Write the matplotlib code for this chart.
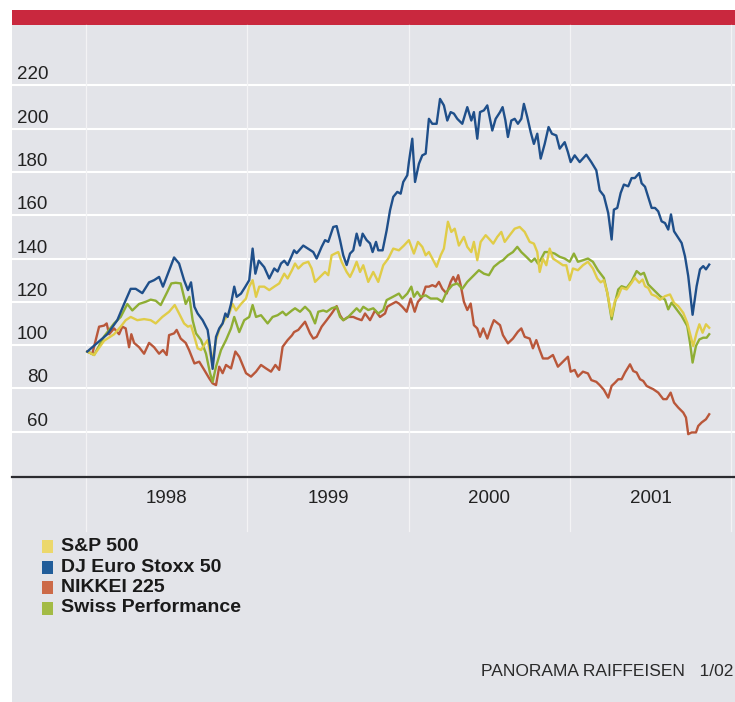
import matplotlib
matplotlib.use('Agg')
import matplotlib.pyplot as plt
import matplotlib.transforms as mtransforms
from matplotlib.patches import Rectangle

plt.rcParams['font.family'] = ['Liberation Sans', 'DejaVu Sans']

# Data (index, start = ~97), decimal years #
stoxx_t = [1998.008, 1998.070, 1998.132, 1998.194, 1998.236, 1998.277, 1998.308, 1998.349, 1998.391, 1998.422,
           1998.453, 1998.477, 1998.515, 1998.546, 1998.577, 1998.608, 1998.632, 1998.651, 1998.672, 1998.692,
           1998.723, 1998.754, 1998.769, 1998.785, 1998.806, 1998.826, 1998.847, 1998.864, 1998.878, 1998.899,
           1998.919, 1998.934, 1998.961, 1998.988, 1999.012, 1999.033, 1999.050, 1999.071, 1999.105, 1999.136,
           1999.167, 1999.188, 1999.209, 1999.229, 1999.250, 1999.277, 1999.290, 1999.306, 1999.347, 1999.378,
           1999.409, 1999.430, 1999.461, 1999.482, 1999.502, 1999.533, 1999.554, 1999.575, 1999.595, 1999.616,
           1999.637, 1999.657, 1999.678, 1999.699, 1999.715, 1999.740, 1999.761, 1999.777, 1999.798, 1999.812,
           1999.839, 1999.864, 1999.885, 1999.905, 1999.930, 1999.951, 1999.967, 1999.992, 2000.002, 2000.023,
           2000.040, 2000.064, 2000.085, 2000.106, 2000.126, 2000.147, 2000.174, 2000.195, 2000.219, 2000.240,
           2000.261, 2000.281, 2000.302, 2000.333, 2000.364, 2000.389, 2000.405, 2000.426, 2000.443, 2000.467,
           2000.488, 2000.519, 2000.540, 2000.567, 2000.583, 2000.600, 2000.616, 2000.637, 2000.658, 2000.678,
           2000.699, 2000.715, 2000.736, 2000.757, 2000.777, 2000.798, 2000.819, 2000.844, 2000.868, 2000.889,
           2000.916, 2000.937, 2000.968, 2000.988, 2001.005, 2001.030, 2001.061, 2001.102, 2001.133, 2001.164,
           2001.185, 2001.211, 2001.238, 2001.259, 2001.273, 2001.294, 2001.315, 2001.335, 2001.362, 2001.383,
           2001.403, 2001.430, 2001.445, 2001.466, 2001.486, 2001.507, 2001.528, 2001.548, 2001.569, 2001.590,
           2001.610, 2001.627, 2001.646, 2001.666, 2001.693, 2001.714, 2001.734, 2001.761, 2001.786, 2001.807,
           2001.827, 2001.844, 2001.864]
stoxx_v = [97, 101, 105, 111.5, 119, 126, 126, 124, 129, 130,
           131.5, 127, 134.5, 140.5, 137.7, 130, 125.4, 129, 117.7, 114.6,
           111.5, 107, 99.2, 89, 103.8, 107.7, 110, 114.6, 113, 119,
           127, 122.3, 123.8, 127, 130, 144.6, 133, 139, 136, 130.8,
           135.4, 134, 137.7, 139, 137, 141.5, 143.8, 142.5, 146, 144.5,
           143, 140, 145.4, 148.5, 147.7, 154.6, 155, 148.5, 141.5, 137,
           142.3, 143.8, 151.5, 146, 151.5, 148.5, 147, 143, 147.7, 143.8,
           143.8, 153, 162.3, 168.5, 170.8, 170, 175.4, 178.5, 184.6, 195.4,
           175.4, 183.8, 187.7, 188.5, 204.6, 202.3, 202.3, 213.8, 210.8, 203.8,
           207.7, 207, 204.6, 202.3, 210, 203.8, 207.7, 195.4, 207.7, 208.5,
           210.8, 199.2, 204.6, 207.7, 210, 204, 196.2, 203.8, 204.6, 202.3,
           204.6, 211.5, 205.4, 198.5, 193, 197.7, 186.2, 193, 200.8, 197.7,
           196.9, 190.8, 193.8, 189.2, 184.6, 187.7, 184.6, 188, 184.6, 180.8,
           171.5, 169, 161, 148.8, 162.6, 163.4, 170.3, 174.2, 173.4, 177.2,
           177.2, 179.5, 174.8, 173.2, 168.5, 163.4, 163.4, 161.8, 157.2, 156.4,
           153.4, 160.4, 152.6, 150.3, 147.2, 141, 131.9, 114, 127.2, 135,
           136.5, 135, 137.2]

sp500_t = [1998.008, 1998.050, 1998.112, 1998.174, 1998.215, 1998.246, 1998.277, 1998.318, 1998.360, 1998.401,
           1998.432, 1998.473, 1998.515, 1998.550, 1998.577, 1998.608, 1998.632, 1998.651, 1998.672, 1998.692,
           1998.713, 1998.733, 1998.754, 1998.781, 1998.806, 1998.826, 1998.857, 1998.888, 1998.909, 1998.930,
           1998.961, 1998.992, 1999.012, 1999.033, 1999.054, 1999.074, 1999.105, 1999.136, 1999.167, 1999.198,
           1999.229, 1999.250, 1999.277, 1999.296, 1999.316, 1999.347, 1999.378, 1999.399, 1999.420, 1999.451,
           1999.482, 1999.502, 1999.523, 1999.544, 1999.564, 1999.585, 1999.616, 1999.637, 1999.657, 1999.678,
           1999.699, 1999.719, 1999.750, 1999.781, 1999.812, 1999.843, 1999.874, 1999.905, 1999.940, 1999.971,
           2000.002, 2000.033, 2000.058, 2000.085, 2000.106, 2000.126, 2000.147, 2000.174, 2000.199, 2000.219,
           2000.244, 2000.265, 2000.286, 2000.312, 2000.343, 2000.364, 2000.389, 2000.405, 2000.426, 2000.447,
           2000.478, 2000.498, 2000.525, 2000.550, 2000.575, 2000.596, 2000.627, 2000.658, 2000.689, 2000.720,
           2000.751, 2000.777, 2000.798, 2000.813, 2000.833, 2000.854, 2000.875, 2000.895, 2000.926, 2000.957,
           2000.978, 2000.999, 2001.019, 2001.050, 2001.081, 2001.112, 2001.143, 2001.170, 2001.191, 2001.211,
           2001.232, 2001.259, 2001.280, 2001.300, 2001.321, 2001.352, 2001.383, 2001.403, 2001.430, 2001.451,
           2001.466, 2001.486, 2001.507, 2001.534, 2001.559, 2001.590, 2001.621, 2001.646, 2001.672, 2001.703,
           2001.728, 2001.749, 2001.765, 2001.786, 2001.803, 2001.823, 2001.844, 2001.864]
sp500_v = [97, 95.4, 102, 105, 108.5, 111.5, 113, 111.5, 112, 111.5,
           110, 113, 115.4, 118.5, 114.6, 110, 108.5, 109, 103.8, 98.5,
           97.7, 100, 102.3, 92, 102.3, 107, 111.5, 114.6, 119, 116,
           119, 121.5, 127, 130, 122.3, 127, 127, 125.4, 127, 128.5,
           133, 130.8, 134.6, 137.7, 135.4, 137.7, 138.5, 135.4, 129.2, 131.5,
           133.8, 132.3, 141.5, 142.3, 143, 138.5, 133.8, 131.5, 134.6, 138.5,
           133.8, 136.9, 129.2, 133.8, 129.2, 136.9, 140, 144.6, 143.8, 146,
           148.5, 142.3, 147.7, 145.4, 141.5, 143, 140, 136.2, 141.5, 144.6,
           157, 152.3, 153.8, 146, 150, 145.4, 143, 147.7, 139.2, 147.7,
           150.8, 149.2, 146.9, 150, 152.3, 147.7, 150.8, 153.8, 154.6, 152.3,
           147.7, 146.9, 143, 133.8, 140, 136.9, 144.6, 140, 138.5, 136.9,
           136.9, 130, 135.4, 134.6, 136.9, 138.5, 135.4, 130.8, 129, 130,
           124.2, 113.4, 120.5, 122.6, 126.5, 125.7, 128.8, 131.1, 128.8, 130.3,
           127.2, 126.4, 123.4, 122.6, 121, 122.6, 123.4, 119.5, 118, 114.9,
           110.3, 104.2, 99.5, 105.7, 109.6, 105.7, 109.6, 108]

nikkei_t = [1998.008, 1998.039, 1998.081, 1998.112, 1998.128, 1998.143, 1998.174, 1998.205, 1998.225, 1998.246,
            1998.267, 1998.281, 1998.298, 1998.329, 1998.360, 1998.391, 1998.422, 1998.453, 1998.477, 1998.500,
            1998.515, 1998.546, 1998.562, 1998.587, 1998.618, 1998.639, 1998.672, 1998.702, 1998.733, 1998.764,
            1998.785, 1998.806, 1998.826, 1998.847, 1998.868, 1998.899, 1998.926, 1998.950, 1998.971, 1998.992,
            1999.023, 1999.054, 1999.085, 1999.116, 1999.147, 1999.174, 1999.198, 1999.219, 1999.250, 1999.277,
            1999.290, 1999.316, 1999.358, 1999.389, 1999.409, 1999.430, 1999.461, 1999.492, 1999.523, 1999.554,
            1999.575, 1999.595, 1999.626, 1999.657, 1999.678, 1999.709, 1999.730, 1999.761, 1999.792, 1999.823,
            1999.854, 1999.868, 1999.885, 1999.922, 1999.940, 1999.961, 1999.988, 2000.013, 2000.038, 2000.058,
            2000.085, 2000.106, 2000.126, 2000.147, 2000.168, 2000.188, 2000.209, 2000.236, 2000.261, 2000.277,
            2000.292, 2000.308, 2000.323, 2000.343, 2000.364, 2000.385, 2000.405, 2000.426, 2000.443, 2000.463,
            2000.488, 2000.513, 2000.529, 2000.567, 2000.585, 2000.616, 2000.647, 2000.678, 2000.699, 2000.720,
            2000.751, 2000.771, 2000.792, 2000.813, 2000.833, 2000.864, 2000.895, 2000.926, 2000.957, 2000.988,
            2001.005, 2001.030, 2001.050, 2001.081, 2001.112, 2001.133, 2001.164, 2001.185, 2001.211, 2001.238,
            2001.259, 2001.280, 2001.300, 2001.321, 2001.342, 2001.373, 2001.393, 2001.414, 2001.435, 2001.455,
            2001.476, 2001.497, 2001.517, 2001.548, 2001.579, 2001.600, 2001.625, 2001.646, 2001.672, 2001.703,
            2001.720, 2001.734, 2001.755, 2001.782, 2001.796, 2001.817, 2001.844, 2001.864]
nikkei_v = [97, 96, 108.5, 109, 110, 105, 107.7, 105, 108.5, 107.7,
            99, 105, 101, 99, 96, 101, 99, 96, 97.7, 95.4,
            104.6, 105.4, 107, 103, 101, 97.7, 91.5, 92.3, 88.5, 84.6,
            82.3, 81.5, 90, 87, 90.8, 89.2, 97, 94.6, 90.8, 87,
            85.4, 87.7, 90.8, 89.2, 87.7, 90.8, 88.5, 99.2, 102.3, 104.5,
            106, 107, 110.8, 105.4, 103, 103.8, 108.5, 111.5, 114.6, 118,
            113.8, 111.5, 113, 113, 112.3, 111.5, 114.6, 111.5, 116, 113,
            114.6, 117.7, 118.5, 120, 119.2, 117.7, 115.4, 121.5, 115.4, 120,
            122.3, 127, 127, 127.7, 127, 129.2, 126, 123.8, 129.2, 131.5,
            129.2, 132.3, 127.7, 120, 116.2, 119.2, 109.2, 107.7, 103.8, 107.7,
            103, 108.5, 111.5, 109.2, 104.6, 100.8, 103, 106.2, 107.7, 103.8,
            103, 98.5, 102.3, 97.7, 93.8, 93.8, 95.4, 90, 92.3, 94.6,
            87.7, 88.5, 85.4, 87.7, 86.9, 83.8, 83, 81.5, 79.3, 75.7,
            81.1, 82.6, 84.2, 84.2, 87.3, 91.1, 88, 87.3, 84.2, 83.4,
            81.1, 80.3, 79.6, 78, 75, 75, 78, 73.4, 71.1, 68.8,
            66.5, 58.8, 59.6, 59.6, 62.6, 64.2, 65.7, 68]

swiss_t = [1998.008, 1998.050, 1998.112, 1998.174, 1998.215, 1998.256, 1998.287, 1998.329, 1998.370, 1998.401,
           1998.432, 1998.463, 1998.504, 1998.529, 1998.556, 1998.587, 1998.618, 1998.641, 1998.661, 1998.682,
           1998.713, 1998.744, 1998.769, 1998.785, 1998.806, 1998.837, 1998.868, 1998.899, 1998.919, 1998.950,
           1998.981, 1999.012, 1999.033, 1999.054, 1999.085, 1999.126, 1999.157, 1999.188, 1999.219, 1999.240,
           1999.277, 1999.296, 1999.327, 1999.358, 1999.389, 1999.420, 1999.440, 1999.471, 1999.492, 1999.523,
           1999.554, 1999.575, 1999.595, 1999.626, 1999.657, 1999.678, 1999.699, 1999.719, 1999.750, 1999.781,
           1999.812, 1999.843, 1999.864, 1999.895, 1999.940, 1999.961, 1999.992, 2000.017, 2000.033, 2000.054,
           2000.075, 2000.106, 2000.137, 2000.178, 2000.209, 2000.236, 2000.271, 2000.302, 2000.333, 2000.364,
           2000.405, 2000.436, 2000.467, 2000.498, 2000.529, 2000.567, 2000.585, 2000.616, 2000.647, 2000.674,
           2000.699, 2000.730, 2000.761, 2000.782, 2000.802, 2000.823, 2000.844, 2000.875, 2000.906, 2000.937,
           2000.968, 2000.999, 2001.025, 2001.050, 2001.081, 2001.112, 2001.143, 2001.174, 2001.211, 2001.232,
           2001.259, 2001.280, 2001.300, 2001.321, 2001.352, 2001.383, 2001.414, 2001.439, 2001.459, 2001.486,
           2001.517, 2001.559, 2001.590, 2001.610, 2001.631, 2001.662, 2001.693, 2001.728, 2001.745, 2001.761,
           2001.782, 2001.803, 2001.827, 2001.848, 2001.864]
swiss_v = [97, 95.4, 104, 110, 113, 119, 116, 119, 120, 121,
           120.5, 118.5, 124.6, 128.5, 128.8, 128.5, 119, 122.3, 111.5, 105.4,
           102.3, 96, 87, 83, 90, 97.7, 102.3, 107.7, 113, 106,
           111.5, 113, 118.5, 113, 113.8, 110, 113, 113.8, 115.4, 113.8,
           116, 117, 115.4, 117.7, 115.4, 110, 115.4, 116, 115.4, 117,
           117.7, 113, 111.5, 113, 115.4, 117, 115.4, 117.7, 116.2, 117,
           114.6, 116.2, 120.8, 122, 123.8, 121.5, 123.8, 127, 122.3, 124.6,
           122.3, 123, 121.5, 121.5, 120, 124.6, 127.7, 128.5, 126, 129.2,
           132.3, 134.6, 133, 132.3, 136.2, 138.5, 139.2, 141.5, 143, 145.4,
           143, 140.8, 138.5, 140, 137.7, 140, 143, 143, 142.3, 140.8,
           140, 138.5, 142.3, 138.5, 139.2, 140, 138.5, 134.6, 131, 124.2,
           111.9, 119.7, 125.7, 127.2, 126.4, 129.5, 134.2, 132.6, 133.4, 128,
           125.7, 122.6, 121, 116.5, 119.6, 116.5, 113.4, 108.8, 101, 91.9,
           99.6, 102.6, 103.4, 103.4, 105]

labels = ['S&P 500', 'DJ Euro Stoxx 50', 'NIKKEI 225', 'Swiss Performance']
line_colors = ['#e0cc48', '#1f4f8a', '#b9573a', '#8fae34']
key_colors = ['#ecd86c', '#215d9a', '#cc6a48', '#a3bb45']
yticks = [60, 80, 100, 120, 140, 160, 180, 200, 220]
years = [1998, 1999, 2000, 2001]

bg = '#e3e4e9'
W, H = 735, 702

fig = plt.figure(figsize=(W / 100, H / 100), dpi=100)
fig.patch.set_facecolor('white')

# grey panel and red band #
fig.patches.append(Rectangle((12 / W, 0), 1, 1 - 25 / H, transform=fig.transFigure,
                             facecolor=bg, edgecolor='none', zorder=-2))
fig.patches.append(Rectangle((12 / W, 1 - 25 / H), 1, 15 / H, transform=fig.transFigure,
                             facecolor='#c9283e', edgecolor='none', zorder=-2))

ax = fig.add_axes([12 / W, 1 - 477 / H, 723 / W, 452 / H])
ax.set_zorder(1)
ax.set_facecolor('none')
ax.set_xlim(1997.541, 2002.024)
ax.set_ylim(39.0, 247.97)

for sp in ['top', 'right', 'left']:
    ax.spines[sp].set_visible(False)
ax.spines['bottom'].set_color('#2b2b30')
ax.spines['bottom'].set_linewidth(1.6)
ax.set_xticks([])
ax.set_yticks([])

# white grid lines #
for v in yticks:
    ax.axhline(v, color='white', lw=1.5, zorder=1)
# year separators #
trans_x = mtransforms.blended_transform_factory(ax.transData, ax.transAxes)
for yr in years + [2002]:
    ax.plot([yr, yr], [-0.12, 1.0], transform=trans_x, color='#f3f3f5', lw=0.9,
            clip_on=False, zorder=1)

# y labels above grid lines #
trans_y = mtransforms.blended_transform_factory(ax.transAxes, ax.transData)
off = mtransforms.ScaledTranslation(0, 6 / 100, fig.dpi_scale_trans)
for v in yticks:
    ax.text(36 / 723, v, str(v), transform=trans_y + off, ha='right', va='baseline',
            fontsize=13.5, color='#222222')

# year labels #
for yr in years:
    ax.text(yr + 0.5, -0.047, str(yr), transform=trans_x, ha='center', va='center',
            fontsize=13.5, color='#222222')

# lines #
ax.plot(nikkei_t, nikkei_v, color=line_colors[2], lw=1.7, zorder=3)
ax.plot(swiss_t, swiss_v, color=line_colors[3], lw=1.7, zorder=3)
ax.plot(sp500_t, sp500_v, color=line_colors[0], lw=1.7, zorder=4)
ax.plot(stoxx_t, stoxx_v, color=line_colors[1], lw=1.7, zorder=5)

# legend #
row_y = [546.5, 567, 587.5, 608]
for lab, col, ry in zip(labels, key_colors, row_y):
    fig.patches.append(Rectangle((42 / W, 1 - (ry + 6.5) / H), 11 / W, 13 / H,
                                 transform=fig.transFigure, facecolor=col, edgecolor='none',
                                 zorder=2))
    fig.text(61 / W, 1 - ry / H, lab, ha='left', va='center', fontsize=14,
             fontweight='bold', color='#1a1a1a')

fig.text(733 / W, 1 - 672 / H, 'PANORAMA RAIFFEISEN   1/02', ha='right', va='center',
         fontsize=12.5, color='#2a2a2a')

fig.savefig('out.png', dpi=100)
